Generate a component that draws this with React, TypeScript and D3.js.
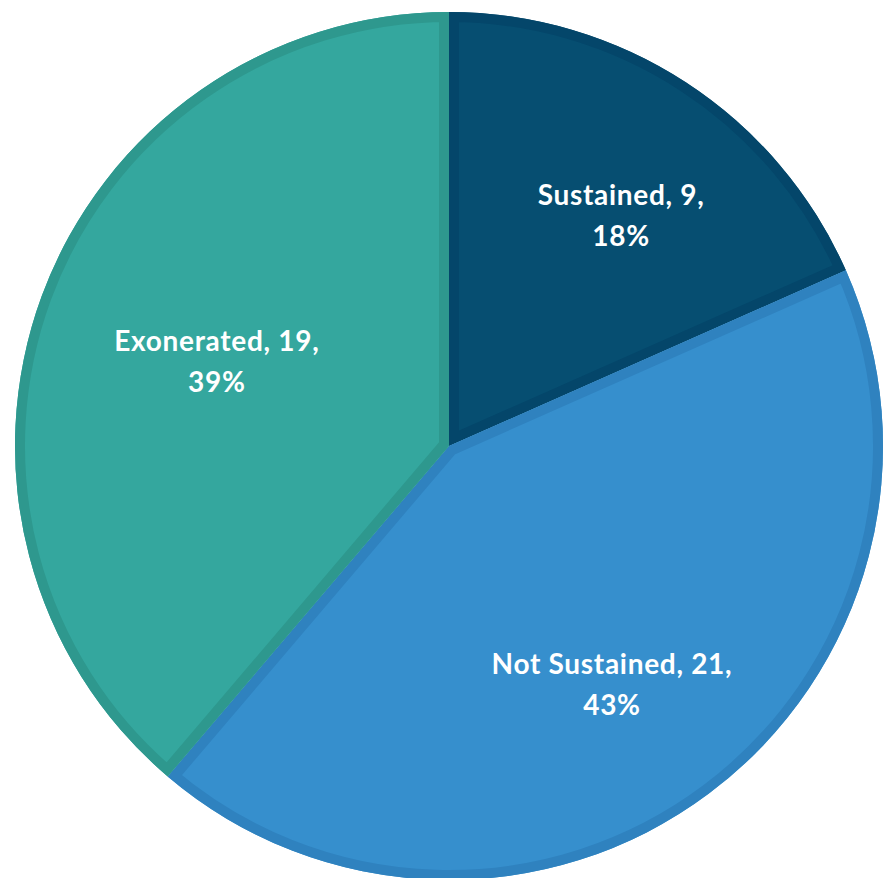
import React from "react";
import * as d3 from "d3";

const categories = ["Sustained", "Not Sustained", "Exonerated"];
const values = [9, 21, 19];
const percents = ["18%", "43%", "39%"];
const fills = ["#064E71", "#368FCD", "#34A79E"];
const borders = ["#04466A", "#2F82BF", "#2E988E"];
const labelRadiusFactor = [0.664, 0.664, 0.57];
const labelAngleShiftDeg = [3.6, 2.3, 0];

const W = 894;
const H = 878;
const cx = 449;
const cy = 446;
const R = 434;

export default function App() {
  const pie = d3.pie<number>().sort(null).value((d) => d);
  const arcs = pie(values);
  const arc = d3.arc<d3.PieArcDatum<number>>().innerRadius(0).outerRadius(R);

  return (
    <svg
      width={W}
      height={H}
      style={{ position: "absolute", left: 0, top: 0, background: "#fff" }}
    >
      <defs>
        {arcs.map((a, i) => (
          <clipPath id={`clip-${i}`} key={i}>
            <path d={arc(a) || ""} />
          </clipPath>
        ))}
      </defs>
      <g transform={`translate(${cx},${cy})`}>
        {arcs.map((a, i) => (
          <g key={i}>
            <path d={arc(a) || ""} fill={fills[i]} />
            <path
              d={arc(a) || ""}
              fill="none"
              stroke={borders[i]}
              strokeWidth={20}
              strokeLinejoin="miter"
              clipPath={`url(#clip-${i})`}
            />
          </g>
        ))}
        {arcs.map((a, i) => {
          const lr = R * labelRadiusFactor[i];
          const mid = (a.startAngle + a.endAngle) / 2 + (labelAngleShiftDeg[i] * Math.PI) / 180;
          const x = lr * Math.sin(mid);
          const y = -lr * Math.cos(mid);
          return (
            <text
              key={`t${i}`}
              x={x}
              y={y}
              fill="#fff"
              fontFamily="Lato, 'Open Sans', sans-serif"
              fontWeight={700}
              fontSize={28}
              letterSpacing={0.7}
              textAnchor="middle"
            >
              <tspan x={x} dy={-10}>
                {`${categories[i]}, ${values[i]},`}
              </tspan>
              <tspan x={x} dy={41}>
                {percents[i]}
              </tspan>
            </text>
          );
        })}
      </g>
    </svg>
  );
}
